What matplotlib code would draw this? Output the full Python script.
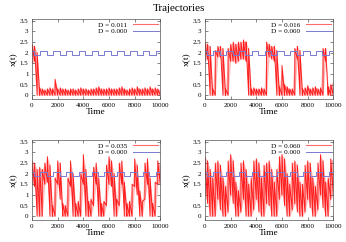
import numpy as np
import matplotlib
matplotlib.use("Agg")
import matplotlib.pyplot as plt

plt.rcParams['font.family'] = ['Liberation Serif', 'DejaVu Serif']

# ---- data ----
t_grid = list(range(0, 10001, 200))

noise_levels = ["0.011", "0.016", "0.035", "0.060"]

d011_lo = [1.5, 1.6, 0.0] + [0.0] * 48
d011_hi = [2.4, 2.3, 2.0, 0.35, 0.3, 0.25, 0.3, 0.35, 0.3, 0.75, 0.3, 0.35, 0.3, 0.3,
           0.25, 0.3, 0.3, 0.25, 0.3, 0.35, 0.3, 0.3, 0.25, 0.3, 0.3, 0.35, 0.4, 0.3,
           0.3, 0.3, 0.35, 0.3, 0.3, 0.3, 0.35, 0.4, 0.3, 0.25, 0.3, 0.35, 0.3, 0.4,
           0.3, 0.3, 0.35, 0.3, 0.4, 0.3, 0.35, 0.3, 0.25]

d016_lo = [1.6, 1.7, 0.0, 0.0, 0.0, 1.8, 1.8, 0.0, 0.0, 0.0, 1.6, 1.6, 1.5, 1.6, 1.7,
           1.7, 1.6, 0.0, 0.0, 0.0, 0.0, 0.0, 0.0, 0.0, 0.0, 1.8, 1.7, 1.6, 0.0, 0.0,
           0.0, 0.0, 0.0, 0.0, 0.0, 0.0, 1.7, 0.0, 0.0, 0.0, 0.0, 0.0, 0.0, 0.0, 0.0,
           0.0, 0.0, 1.6, 0.0, 0.0, 0.0]
d016_hi = [2.5, 2.4, 2.3, 0.3, 2.1, 2.3, 2.3, 2.2, 0.3, 2.2, 2.4, 2.5, 2.4, 2.5, 2.5,
           2.6, 2.5, 2.2, 0.3, 0.35, 0.3, 0.3, 0.35, 0.3, 2.5, 2.4, 2.3, 2.3, 2.1, 0.4,
           1.4, 0.5, 0.4, 0.3, 0.3, 2.2, 2.3, 2.1, 0.3, 0.35, 0.45, 0.3, 0.35, 0.4, 0.3,
           0.35, 2.2, 2.2, 0.4, 0.5, 0.6]

d035_lo = [1.5, 1.4, 0.0, 0.0, 0.0, 1.5, 1.6, 0.0, 0.0, 0.0, 1.5, 0.8, 0.0, 0.0, 0.0,
           1.4, 0.0, 0.0, 0.0, 0.0, 1.5, 0.0, 0.0, 0.0, 0.5, 1.5, 0.0, 0.0, 0.0, 0.5,
           1.5, 1.4, 0.0, 0.0, 0.5, 1.5, 0.0, 0.0, 0.0, 0.0, 1.4, 1.0, 0.0, 0.0, 0.8,
           1.5, 0.0, 0.0, 0.0, 1.5, 1.5]
d035_hi = [2.6, 2.5, 2.2, 2.3, 2.2, 2.5, 2.8, 2.4, 0.5, 1.8, 2.6, 2.5, 0.6, 0.5, 1.8,
           2.6, 2.0, 0.6, 0.7, 2.0, 2.9, 2.2, 0.7, 0.8, 2.3, 2.5, 1.8, 0.6, 0.7, 2.4,
           2.8, 2.6, 2.0, 0.8, 2.5, 2.6, 1.6, 0.6, 0.7, 1.5, 2.7, 2.4, 1.2, 0.7, 2.5,
           2.7, 1.8, 0.6, 1.6, 2.6, 2.4]

d060_lo = [1.0, 0.6, 0.0, 0.0, 0.0, 0.8, 0.3, 0.0, 0.0, 0.2, 1.0, 0.6, 0.0, 0.0, 0.2,
           0.8, 0.0, 0.0, 0.0, 0.3, 0.8, 0.2, 0.0, 0.0, 0.6, 0.5, 0.0, 0.0, 0.0, 0.8,
           1.0, 0.5, 0.0, 0.0, 0.3, 0.6, 0.2, 0.0, 0.0, 0.2, 0.8, 0.4, 0.0, 0.0, 0.3,
           1.0, 0.4, 0.0, 0.0, 0.8, 1.0]
d060_hi = [2.8, 2.6, 2.2, 1.8, 2.5, 2.6, 2.4, 1.8, 1.4, 2.6, 2.9, 2.6, 1.6, 1.2, 2.5,
           2.6, 2.2, 1.5, 1.8, 2.6, 2.7, 2.5, 1.8, 2.4, 2.5, 2.6, 2.2, 1.6, 2.2, 2.8,
           2.9, 2.7, 2.0, 1.5, 2.5, 2.6, 2.4, 1.6, 1.5, 2.4, 2.6, 2.5, 1.8, 1.4, 2.5,
           2.9, 2.6, 1.6, 1.8, 2.7, 2.6]

# D = 0.000 trajectory: switching times and levels (step curve)
blue_t = [0, 150, 650, 1150, 1650, 2150, 2650, 3150, 3650, 4150, 4650, 5150, 5650,
          6150, 6650, 7150, 7650, 8150, 8650, 9150, 9650, 10000]
blue_x = [2.06, 1.88, 2.06, 1.88, 2.06, 1.88, 2.06, 1.88, 2.06, 1.88, 2.06, 1.88,
          2.06, 1.88, 2.06, 1.88, 2.06, 1.88, 2.06, 1.88, 2.06, 2.06]

x_ticks = [0, 2000, 4000, 6000, 8000, 10000]
y_ticks = [0, 0.5, 1, 1.5, 2, 2.5, 3, 3.5]
y_ticklabels = ["0", "0.5", "1", "1.5", "2", "2.5", "3", "3.5"]

series = [(d011_lo, d011_hi), (d016_lo, d016_hi), (d035_lo, d035_hi), (d060_lo, d060_hi)]

# ---- figure ----
fig = plt.figure(figsize=(3.46, 2.42), dpi=100)
W, H = 346.0, 242.0
boxes = [(32, 19.3), (205, 19.3), (32, 140.3), (205, 140.3)]
aw, ah = 128.3, 80.0

red = '#ff0000'
blue = '#7a7ad2'
frame = '#555555'

for (px, py), (lo, hi), lab in zip(boxes, series, noise_levels):
    ax = fig.add_axes([px / W, 1 - (py + ah) / H, aw / W, ah / H])
    t = np.array(t_grid, dtype=float)
    lo = np.array(lo)
    hi = np.array(hi)
    # light envelope
    ax.fill_between(t, lo, hi, color=red, alpha=0.25, lw=0)
    # noisy trace running between the envelope extremes
    tz = np.repeat(t, 2)
    yz = np.column_stack([lo, hi]).ravel()
    ax.plot(tz, yz, color=red, lw=0.7, alpha=0.85)
    ax.plot([], [], color='#ff6a6a', lw=0.8, label='D = ' + lab)
    ax.step(blue_t, blue_x, where='post', color=blue, lw=0.7, label='D = 0.000')
    ax.set_xlim(0, 10000)
    ax.set_ylim(-0.19, 3.57)
    ax.set_xticks(x_ticks)
    ax.set_xticklabels([str(v) for v in x_ticks])
    ax.set_yticks(y_ticks)
    ax.set_yticklabels(y_ticklabels)
    ax.tick_params(direction='in', length=2.2, width=0.5, top=True, right=True,
                   labelsize=5, pad=2.5, color=frame)
    for s in ax.spines.values():
        s.set_linewidth(0.5)
        s.set_color(frame)
    ax.set_xlabel('Time', fontsize=6.8, labelpad=0.5)
    ax.set_ylabel('x(t)', fontsize=6.8, labelpad=1)
    ax.legend(loc='upper right', fontsize=5.2, frameon=False, markerfirst=False,
              handlelength=3.4, handletextpad=0.8, labelspacing=0.05,
              borderaxespad=0.15, borderpad=0.2)

fig.text(0.517, 0.985, 'Trajectories', ha='center', va='top', fontsize=8)

fig.savefig('out.png', dpi=100)
